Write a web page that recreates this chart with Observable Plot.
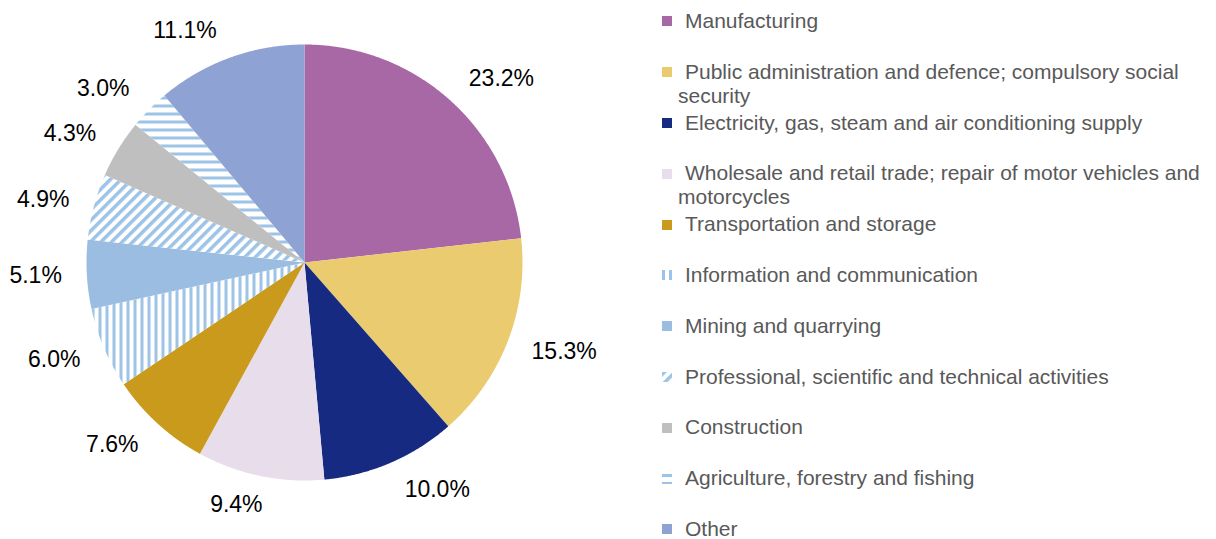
<!DOCTYPE html>
<html>
<head>
<meta charset="utf-8">
<script src="https://cdn.jsdelivr.net/npm/d3@7"></script>
<script src="https://cdn.jsdelivr.net/npm/@observablehq/plot@0.6"></script>
<style>
  html, body { margin: 0; padding: 0; background: #fff; }
  #wrap { position: relative; width: 1216px; height: 539px; overflow: hidden; }
  #chart { position: absolute; left: 0; top: 0; }
  #legend { position: absolute; left: 662px; top: 9px; width: 552px;
    font-family: "Liberation Sans", Arial, sans-serif; font-size: 21px; color: #595959; }
  .item { height: 50.8px; line-height: 24px; padding-left: 16px; text-indent: -16px; }
  .sw { display: inline-block; width: 10px; height: 10px; margin-right: 13px; vertical-align: middle; position: relative; top: -1px; text-indent: 0; }
  .sw svg { display: block; }
</style>
</head>
<body>
<div id="wrap">
  <div id="chart"></div>
  <div id="legend"></div>
</div>
<script>
const categories = [
  "Manufacturing",
  "Public administration and defence; compulsory social security",
  "Electricity, gas, steam and air conditioning supply",
  "Wholesale and retail trade; repair of motor vehicles and motorcycles",
  "Transportation and storage",
  "Information and communication",
  "Mining and quarrying",
  "Professional, scientific and technical activities",
  "Construction",
  "Agriculture, forestry and fishing",
  "Other"
];
const values = [23.2, 15.3, 10.0, 9.4, 7.6, 6.0, 5.1, 4.9, 4.3, 3.0, 11.1];
const fills = [
  "#A868A5", "#EBCB6F", "#152A80", "#E8DDEB", "#C99A1C",
  "url(#vstripe)", "#9BBDE2", "url(#dstripe)", "#BFBFBF", "url(#hstripe)", "#8EA3D4"
];
const labels = values.map(v => v.toFixed(1) + "%");

// geometry (pixels)
const W = 640, H = 539, CX = 304, CY = 262, R = 218;
const LABEL_FONT = 23;
const ANCHOR_R = 236;      // px from centre to label box edge
const PAD_X = 7, BOX_H = 22;

const arcs = d3.pie().sort(null).value(d => d)(values);
const rows = [];
arcs.forEach((a, i) => {
  const cat = categories[i];
  rows.push({cat, x: 0, y: 0});
  const n = Math.max(2, Math.ceil((a.endAngle - a.startAngle) / 0.004));
  for (let k = 0; k <= n; k++) {
    const t = a.startAngle + (a.endAngle - a.startAngle) * k / n;
    rows.push({cat, x: Math.sin(t), y: Math.cos(t)});
  }
});

// label placement: box just outside the pie, pushed away from the anchor point
const ctx = document.createElement("canvas").getContext("2d");
ctx.font = `${LABEL_FONT}px "Liberation Sans", Arial, sans-serif`;
const clamp = v => Math.max(-1, Math.min(1, v));
const labelRows = arcs.map((a, i) => {
  const m = (a.startAngle + a.endAngle) / 2;
  const s = Math.sin(m), c = Math.cos(m);
  const hw = ctx.measureText(labels[i]).width / 2 + PAD_X;
  const px = ANCHOR_R * s + hw * clamp(3 * s);
  const py = ANCHOR_R * c + (BOX_H / 2) * c;
  return {text: labels[i], x: px / R, y: py / R};
});

const svg = Plot.plot({
  width: W, height: H,
  margin: 0,
  style: {fontFamily: "'Liberation Sans', Arial, sans-serif", background: "white", overflow: "visible"},
  x: {domain: [-CX / R, (W - CX) / R], axis: null},
  y: {domain: [-(H - CY) / R, CY / R], axis: null},
  color: {domain: categories, range: fills},
  marks: [
    Plot.line(rows, {x: "x", y: "y", z: "cat", fill: "cat", stroke: "none", curve: "linear-closed"}),
    Plot.text(labelRows, {x: "x", y: "y", text: "text", fontSize: LABEL_FONT, fill: "black"})
  ]
});

const ns = "http://www.w3.org/2000/svg";
const defs = document.createElementNS(ns, "defs");
defs.innerHTML = `
  <pattern id="vstripe" patternUnits="userSpaceOnUse" width="7" height="7">
    <rect width="7" height="7" fill="white"/><rect x="0" y="0" width="3" height="7" fill="#9DC3E6"/>
  </pattern>
  <pattern id="hstripe" patternUnits="userSpaceOnUse" width="8" height="8">
    <rect width="8" height="8" fill="white"/><rect x="0" y="0" width="8" height="3" fill="#9DC3E6"/>
  </pattern>
  <pattern id="dstripe" patternUnits="userSpaceOnUse" width="7.5" height="7.5" patternTransform="rotate(45)">
    <rect width="7.5" height="7.5" fill="white"/><rect x="0" y="0" width="3.5" height="7.5" fill="#9DC3E6"/>
  </pattern>`;
svg.insertBefore(defs, svg.firstChild);
document.getElementById("chart").appendChild(svg);

const legend = document.getElementById("legend");
categories.forEach((c, i) => {
  const item = document.createElement("div");
  item.className = "item";
  const sw = document.createElement("span");
  sw.className = "sw";
  sw.innerHTML = `<svg width="10" height="10"><rect width="10" height="10" fill="${fills[i]}"/></svg>`;
  item.appendChild(sw);
  item.appendChild(document.createTextNode(c));
  legend.appendChild(item);
});
</script>
</body>
</html>
